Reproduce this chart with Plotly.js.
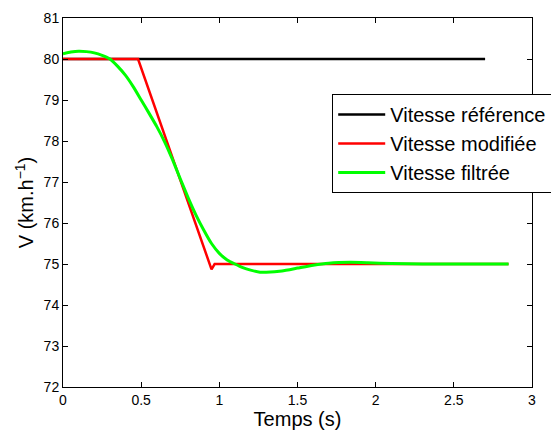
<!DOCTYPE html>
<html><head><meta charset="utf-8">
<script src="https://cdn.plot.ly/plotly-3.0.1.min.js"></script>
<style>html,body{margin:0;padding:0;background:#fff}#plot{width:551px;height:430px}</style>
</head><body><div id="plot"></div>
<script>
// Reference speed
const refT = [0, 2.7];
const refV = [80, 80];
// Modified speed
const modT = [0, 0.48, 0.95, 0.97, 2.85];
const modV = [80, 80, 74.87, 75, 75];
// Filtered speed
const filtT = [0, 0.05, 0.1, 0.15, 0.2, 0.25, 0.3, 0.35, 0.4, 0.45, 0.5, 0.55, 0.6, 0.65, 0.7, 0.75, 0.8, 0.85, 0.9, 0.95, 1.0, 1.05, 1.1, 1.15, 1.2, 1.26, 1.3, 1.4, 1.5, 1.6, 1.7, 1.84, 1.95, 2.1, 2.3, 2.85];
const filtV = [80.13, 80.17, 80.19, 80.18, 80.15, 80.09, 80.0, 79.82, 79.60, 79.32, 79.0, 78.68, 78.35, 77.98, 77.55, 77.08, 76.62, 76.20, 75.83, 75.50, 75.26, 75.10, 75.0, 74.91, 74.85, 74.80, 74.80, 74.83, 74.90, 74.97, 75.02, 75.04, 75.03, 75.01, 75.0, 75.0];
const names = ['Vitesse référence', 'Vitesse modifiée', 'Vitesse filtrée'];
const xTicks = [0, 0.5, 1, 1.5, 2, 2.5, 3];
const xTickText = ['0', '0.5', '1', '1.5', '2', '2.5', '3'];
const yTicks = [72, 73, 74, 75, 76, 77, 78, 79, 80, 81];

const font = {family: 'Liberation Sans, Arial, sans-serif', color: '#000'};
const traces = [
  {x: refT, y: refV, name: names[0], mode: 'lines', line: {color: '#000000', width: 2.5}},
  {x: modT, y: modV, name: names[1], mode: 'lines', line: {color: '#ff0000', width: 2.5}},
  {x: filtT, y: filtV, name: names[2], mode: 'lines', line: {color: '#00ff00', width: 3, shape: 'spline', smoothing: 0.5}}
];
const axisCommon = {showgrid: false, zeroline: false, showline: true, linecolor: '#000', linewidth: 1,
  mirror: 'ticks', ticks: 'inside', ticklen: 5, tickcolor: '#000', tickfont: Object.assign({size: 14}, font)};
const layout = {
  width: 551, height: 430,
  margin: {l: 63, r: 19, t: 18, b: 43, autoexpand: false},
  paper_bgcolor: '#fff', plot_bgcolor: '#fff',
  font: font,
  showlegend: true,
  legend: {x: 0.574, y: 0.794, xanchor: 'left', yanchor: 'top', bgcolor: '#fff', bordercolor: '#000', borderwidth: 1,
    font: Object.assign({size: 20}, font), tracegroupgap: 0, itemwidth: 47},
  xaxis: Object.assign({}, axisCommon, {range: [0, 3], tickvals: xTicks, ticktext: xTickText,
    title: {text: 'Temps (s)', font: Object.assign({size: 20}, font), standoff: 0}}),
  yaxis: Object.assign({}, axisCommon, {range: [72, 81], tickvals: yTicks,
    title: {text: 'V (km.h<sup>−1</sup>)', font: Object.assign({size: 20}, font), standoff: 4}})
};
Plotly.newPlot('plot', traces, layout, {staticPlot: true});
</script></body></html>
